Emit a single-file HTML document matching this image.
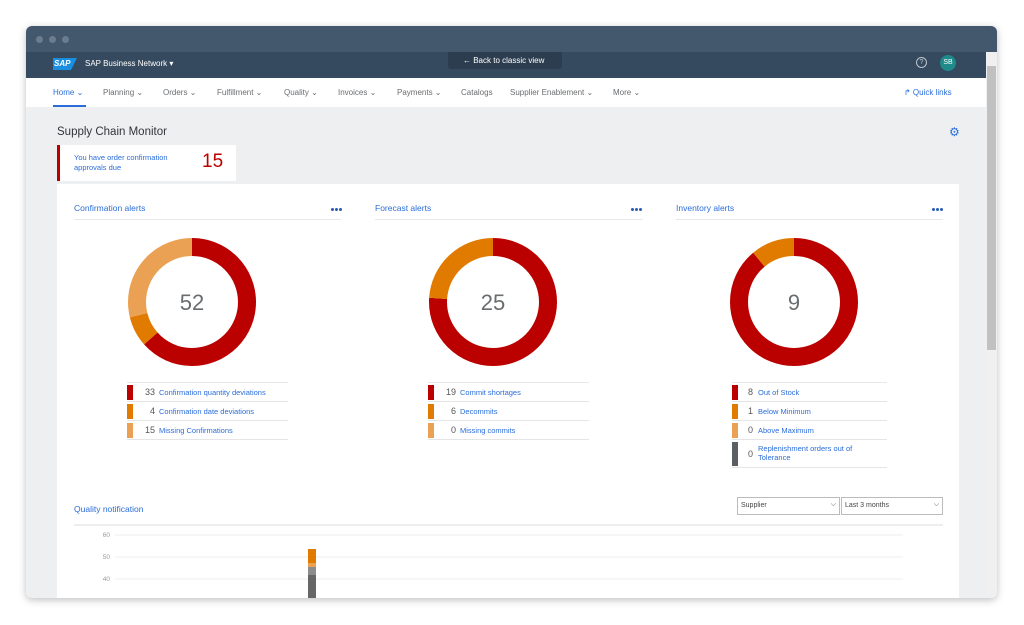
<!DOCTYPE html>
<html><head><meta charset="utf-8"><style>
*{margin:0;padding:0;box-sizing:border-box}
body{width:1024px;height:625px;background:#fff;font-family:"Liberation Sans",Arial,sans-serif;position:relative;overflow:hidden}
.abs{position:absolute}
.win{left:26px;top:26px;width:971px;height:572px;border-radius:6px;overflow:hidden;box-shadow:0 2px 8px rgba(0,0,0,.25);background:#edeff0}
.t{position:absolute;white-space:nowrap}
.nav span{position:absolute;top:88px;font-size:8px;color:#6a6d70}
.row{position:absolute;height:19px;border-bottom:1px solid #e5e5e5}
.row .bar{position:absolute;left:0;top:2px;width:6px;height:15px}
.row .n{position:absolute;left:8px;width:20px;top:4px;font-size:9px;color:#555;text-align:right}
.row .l{position:absolute;left:32px;top:5px;font-size:7.5px;color:#2a6dd9;white-space:nowrap}
.hd{position:absolute;font-size:8.5px;color:#2a6dd9}
.ul{position:absolute;height:1px;background:#e8e8e8}
.dots{position:absolute;width:12px;height:3px}
.dots i{position:absolute;top:0;width:3px;height:3px;border-radius:50%;background:#2a5bb5}
</style></head><body>
<div class="abs win">
 <div class="abs" style="left:0;top:0;width:971px;height:26px;background:#44586d"></div>
 <div class="abs" style="left:10px;top:10px;width:7px;height:7px;border-radius:50%;background:#6b7c8e"></div>
 <div class="abs" style="left:23px;top:10px;width:7px;height:7px;border-radius:50%;background:#6b7c8e"></div>
 <div class="abs" style="left:36px;top:10px;width:7px;height:7px;border-radius:50%;background:#6b7c8e"></div>
 <div class="abs" style="left:0;top:26px;width:971px;height:26px;background:#354a5f"></div>
 <div class="abs" style="left:0;top:52px;width:960px;height:29px;background:#fff"></div>
 <div class="abs" style="left:960px;top:26px;width:11px;height:546px;background:#f0f0f0"></div>
 <div class="abs" style="left:961px;top:40px;width:9px;height:284px;background:#c1c1c1"></div>
</div>
<div class="abs" style="left:53px;top:58px;width:24px;height:12px;background:#1a8fe0;clip-path:polygon(0 0,100% 0,75% 100%,0 100%)"></div>
<div class="t" style="left:54px;top:59px;font-size:8px;font-weight:bold;color:#fff;font-style:italic">SAP</div>
<div class="t" style="left:85px;top:59px;font-size:8px;color:#fff">SAP Business Network ▾</div>
<div class="abs" style="left:448px;top:52px;width:114px;height:17px;background:#2c3d4f;border-radius:0 0 3px 3px"></div>
<div class="t" style="left:463px;top:56px;font-size:8px;color:#fff">← Back to classic view</div>
<div class="abs" style="left:916px;top:57px;width:11px;height:11px;border:1px solid #bcc5cf;border-radius:50%;font-size:7px;color:#bcc5cf;text-align:center;line-height:9px">?</div>
<div class="abs" style="left:940px;top:55px;width:16px;height:16px;border-radius:50%;background:#1f8a8a;font-size:7px;color:#fff;text-align:center;line-height:16px">SB</div>
<div class="nav">
<span style="left:53px;color:#2a6dd9">Home ⌄</span>
<span style="left:103px">Planning ⌄</span>
<span style="left:163px">Orders ⌄</span>
<span style="left:217px">Fulfillment ⌄</span>
<span style="left:284px">Quality ⌄</span>
<span style="left:338px">Invoices ⌄</span>
<span style="left:397px">Payments ⌄</span>
<span style="left:461px">Catalogs</span>
<span style="left:510px">Supplier Enablement ⌄</span>
<span style="left:613px">More ⌄</span>
<span style="left:904px;color:#2a6dd9">↱ Quick links</span>
</div>
<div class="abs" style="left:53px;top:105px;width:33px;height:2px;background:#2a6dd9"></div>
<div class="t" style="left:57px;top:126px;font-size:11.5px;color:#32363a">Supply Chain Monitor</div>
<div class="t" style="left:949px;top:125px;font-size:12px;color:#2a6dd9">⚙</div>
<div class="abs" style="left:57px;top:145px;width:179px;height:36px;background:#fff;border-left:3px solid #bb0000"></div>
<div class="t" style="left:74px;top:153px;font-size:7.5px;color:#2a6dd9;line-height:10px">You have order confirmation<br>approvals due</div>
<div class="t" style="left:202px;top:151px;font-size:19px;color:#bb0000">15</div>
<div class="abs" style="left:57px;top:184px;width:902px;height:414px;background:#fff"></div>
<div class="hd" style="left:74px;top:203px">Confirmation alerts</div>
<div class="hd" style="left:375px;top:203px">Forecast alerts</div>
<div class="hd" style="left:676px;top:203px">Inventory alerts</div>
<div class="dots" style="left:331px;top:208px"><i style="left:0"></i><i style="left:4px"></i><i style="left:8px"></i></div>
<div class="dots" style="left:631px;top:208px"><i style="left:0"></i><i style="left:4px"></i><i style="left:8px"></i></div>
<div class="dots" style="left:932px;top:208px"><i style="left:0"></i><i style="left:4px"></i><i style="left:8px"></i></div>
<div class="ul" style="left:74px;top:219px;width:267px"></div>
<div class="ul" style="left:375px;top:219px;width:268px"></div>
<div class="ul" style="left:676px;top:219px;width:267px"></div>
<svg class="abs" style="left:0;top:0" width="1024" height="625">
 <g transform="rotate(-90 192 302)" fill="none" stroke-width="18">
  <circle cx="192" cy="302" r="55" stroke="#bb0000" stroke-dasharray="219.1 1000"/>
  <circle cx="192" cy="302" r="55" stroke="#e17b00" stroke-dasharray="0 219.1 26.6 1000"/>
  <circle cx="192" cy="302" r="55" stroke="#eba153" stroke-dasharray="0 245.7 99.9 1000"/>
 </g>
 <g transform="rotate(-90 493 302)" fill="none" stroke-width="18">
  <circle cx="493" cy="302" r="55" stroke="#bb0000" stroke-dasharray="262.6 1000"/>
  <circle cx="493" cy="302" r="55" stroke="#e17b00" stroke-dasharray="0 262.6 83 1000"/>
 </g>
 <g transform="rotate(-90 794 302)" fill="none" stroke-width="18">
  <circle cx="794" cy="302" r="55" stroke="#bb0000" stroke-dasharray="307.2 1000"/>
  <circle cx="794" cy="302" r="55" stroke="#e17b00" stroke-dasharray="0 307.2 38.4 1000"/>
 </g>
 <g font-family="Liberation Sans" font-size="22" fill="#6a6d70" text-anchor="middle">
  <text x="192" y="310">52</text><text x="493" y="310">25</text><text x="794" y="310">9</text>
 </g>
 <g stroke="#ececec"><line x1="115" y1="535" x2="903" y2="535"/><line x1="115" y1="557" x2="903" y2="557"/><line x1="115" y1="579" x2="903" y2="579"/></g>
 <g font-family="Liberation Sans" font-size="6.5" fill="#999" text-anchor="end"><text x="110" y="537">60</text><text x="110" y="559">50</text><text x="110" y="581">40</text></g>
 <rect x="308" y="549" width="8" height="14" fill="#e17b00"/>
 <rect x="308" y="563" width="8" height="4" fill="#eba153"/>
 <rect x="308" y="567" width="8" height="8" fill="#8c8c8c"/>
 <rect x="308" y="575" width="8" height="23" fill="#666"/>
</svg>
<div class="ul" style="left:127px;top:382px;width:161px"></div>
<div class="row" style="left:127px;top:383px;width:161px"><div class="bar" style="background:#bb0000"></div><div class="n">33</div><div class="l">Confirmation quantity deviations</div></div>
<div class="row" style="left:127px;top:402px;width:161px"><div class="bar" style="background:#e17b00"></div><div class="n">4</div><div class="l">Confirmation date deviations</div></div>
<div class="row" style="left:127px;top:421px;width:161px"><div class="bar" style="background:#eba153"></div><div class="n">15</div><div class="l">Missing Confirmations</div></div>
<div class="ul" style="left:428px;top:382px;width:161px"></div>
<div class="row" style="left:428px;top:383px;width:161px"><div class="bar" style="background:#bb0000"></div><div class="n">19</div><div class="l">Commit shortages</div></div>
<div class="row" style="left:428px;top:402px;width:161px"><div class="bar" style="background:#e17b00"></div><div class="n">6</div><div class="l">Decommits</div></div>
<div class="row" style="left:428px;top:421px;width:161px"><div class="bar" style="background:#eba153"></div><div class="n">0</div><div class="l">Missing commits</div></div>
<div class="ul" style="left:732px;top:382px;width:155px"></div>
<div class="row" style="left:732px;top:383px;width:155px"><div class="bar" style="background:#bb0000"></div><div class="n" style="left:8px;width:13px">8</div><div class="l" style="left:26px">Out of Stock</div></div>
<div class="row" style="left:732px;top:402px;width:155px"><div class="bar" style="background:#e17b00"></div><div class="n" style="left:8px;width:13px">1</div><div class="l" style="left:26px">Below Minimum</div></div>
<div class="row" style="left:732px;top:421px;width:155px"><div class="bar" style="background:#eba153"></div><div class="n" style="left:8px;width:13px">0</div><div class="l" style="left:26px">Above Maximum</div></div>
<div class="row" style="left:732px;top:440px;width:155px;height:28px"><div class="bar" style="background:#5b5f63;height:24px"></div><div class="n" style="top:9px;left:8px;width:13px">0</div><div class="l" style="left:26px;top:4px;line-height:9px">Replenishment orders out of<br>Tolerance</div></div>
<div class="hd" style="left:74px;top:504px">Quality notification</div>
<div class="ul" style="left:74px;top:524px;width:869px;height:2px;background:#eee"></div>
<div class="abs" style="left:737px;top:497px;width:103px;height:18px;border:1px solid #bbb;font-size:7px;color:#444;padding:4px 3px">Supplier<span style="position:absolute;right:3px;top:3px">⌵</span></div>
<div class="abs" style="left:841px;top:497px;width:102px;height:18px;border:1px solid #bbb;font-size:7px;color:#444;padding:4px 3px">Last 3 months<span style="position:absolute;right:3px;top:3px">⌵</span></div>
</body></html>
